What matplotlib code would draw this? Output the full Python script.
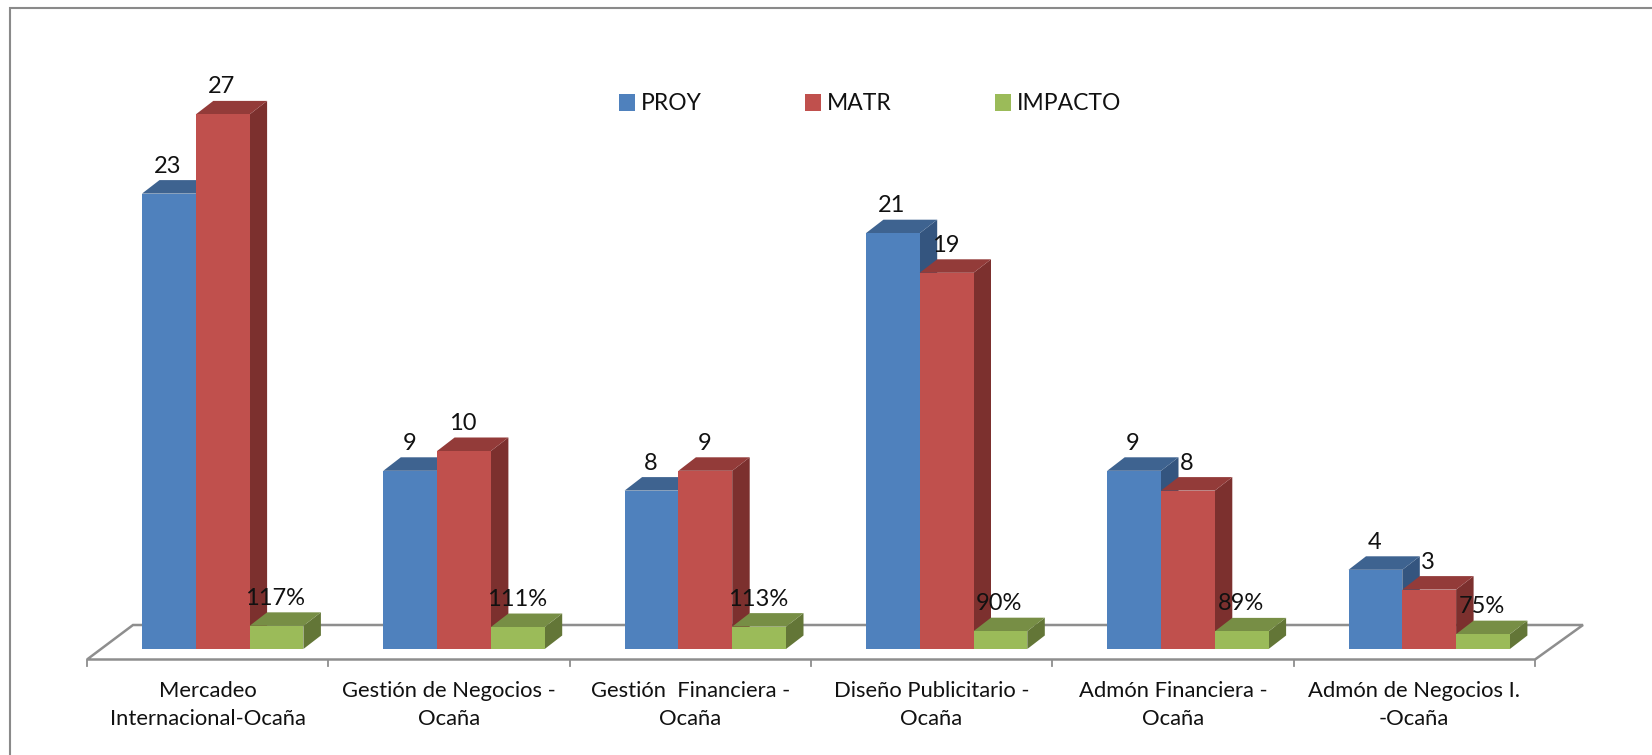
import matplotlib
matplotlib.use("Agg")
import matplotlib.pyplot as plt
from matplotlib.lines import Line2D
from matplotlib.patches import Polygon, Rectangle

# === DATA ===
categories = [
    "Mercadeo\nInternacional-Ocaña",
    "Gestión de Negocios -\nOcaña",
    "Gestión  Financiera -\nOcaña",
    "Diseño Publicitario -\nOcaña",
    "Admón Financiera -\nOcaña",
    "Admón de Negocios I.\n-Ocaña",
]
proy = [23, 9, 8, 21, 9, 4]
matr = [27, 10, 9, 19, 8, 3]
impacto = [1.17, 1.11, 1.13, 0.90, 0.89, 0.75]
impacto_labels = ["117%", "111%", "113%", "90%", "89%", "75%"]

# === CONFIG ===
W, H = 1652, 755
GROUP_PX = 241.3     # width of one category
UNIT_PX = 19.8       # height of one value unit
X0_PX = 87           # first tick
Y0_PX = 649          # bar base
BAR_W = 53.8 / GROUP_PX
BAR_START = 55 / GROUP_PX
DX = 17.5 / GROUP_PX
DY = 13.5 / UNIT_PX
GRAY = "#8E8E8E"
TEXT = "#111111"

SERIES = [
    ("PROY", proy, [str(v) for v in proy], "#4F81BD", "#3E6390", "#34557F"),
    ("MATR", matr, [str(v) for v in matr], "#C0504D", "#933B39", "#7C302E"),
    ("IMPACTO", impacto, impacto_labels, "#9BBB59", "#778E45", "#637637"),
]

plt.rcParams["font.family"] = ["Lato", "DejaVu Sans"]

fig = plt.figure(figsize=(W / 100, H / 100), dpi=100)
ax = fig.add_axes([0, 0, 1, 1])
ax.set_xlim(-X0_PX / GROUP_PX, (W - X0_PX) / GROUP_PX)
ax.set_ylim((Y0_PX - H) / UNIT_PX, Y0_PX / UNIT_PX)
ax.axis("off")


def px(x):
    return (x - X0_PX) / GROUP_PX


def py(y):
    return (Y0_PX - y) / UNIT_PX


# outer frame, only the top and left edges show
fig.add_artist(Line2D([9.5 / W, 9.5 / W, 1], [0, 1 - 8 / H, 1 - 8 / H], transform=fig.transFigure,
                      color="#8A8A8A", lw=1.5, solid_joinstyle="miter"))

# floor of the 3d plot
floor = [(87, 659.5), (133, 625), (1583, 625), (1535, 659.5)]
ax.add_patch(Polygon([(px(a), py(b)) for a, b in floor], closed=True, fill=False,
                     ec=GRAY, lw=1.8, joinstyle="miter", zorder=1))
for k in range(len(categories) + 1):
    ax.plot([k, k], [py(659.5), py(665.5)], color=GRAY, lw=1.3, zorder=1)

# bars, left to right
for i in range(len(categories)):
    for s, (name, vals, labels, front, top, side) in enumerate(SERIES):
        left = i + BAR_START + s * BAR_W
        right = left + BAR_W
        v = vals[i]
        z = 2 + i + s * 0.1
        ax.add_patch(Polygon([(right, 0), (right + DX, DY), (right + DX, v + DY), (right, v)],
                             closed=True, fc=side, ec="none", zorder=z))
        ax.add_patch(Polygon([(left, v), (left + DX, v + DY), (right + DX, v + DY), (right, v)],
                             closed=True, fc=top, ec="none", zorder=z))
        ax.bar(left, v, width=BAR_W, align="edge", color=front, zorder=z + 0.01)

# data labels stay above all the bars
for i in range(len(categories)):
    for s, (name, vals, labels, front, top, side) in enumerate(SERIES):
        ax.text(i + BAR_START + (s + 0.5) * BAR_W - 1 / GROUP_PX, vals[i] + DY + 14 / UNIT_PX, labels[i],
                ha="center", va="center", fontsize=17, color=TEXT, zorder=50)

# category labels
for i, label in enumerate(categories):
    ax.text(i + 0.5, py(705), label, ha="center", va="center", fontsize=15.8,
            color=TEXT, linespacing=1.55, zorder=50)

handles = [Rectangle((0, 0), 1, 1, fc=c[3], ec="none") for c in SERIES]
fig.legend(handles, [c[0] for c in SERIES], ncol=3, frameon=False, fontsize=16.5,
           labelcolor=TEXT, handlelength=0.72, handleheight=0.72, handletextpad=0.25,
           columnspacing=4.5, loc="center", bbox_to_anchor=(870 / W, 1 - 104 / H),
           borderpad=0, borderaxespad=0)

fig.savefig("out.png", dpi=100)
